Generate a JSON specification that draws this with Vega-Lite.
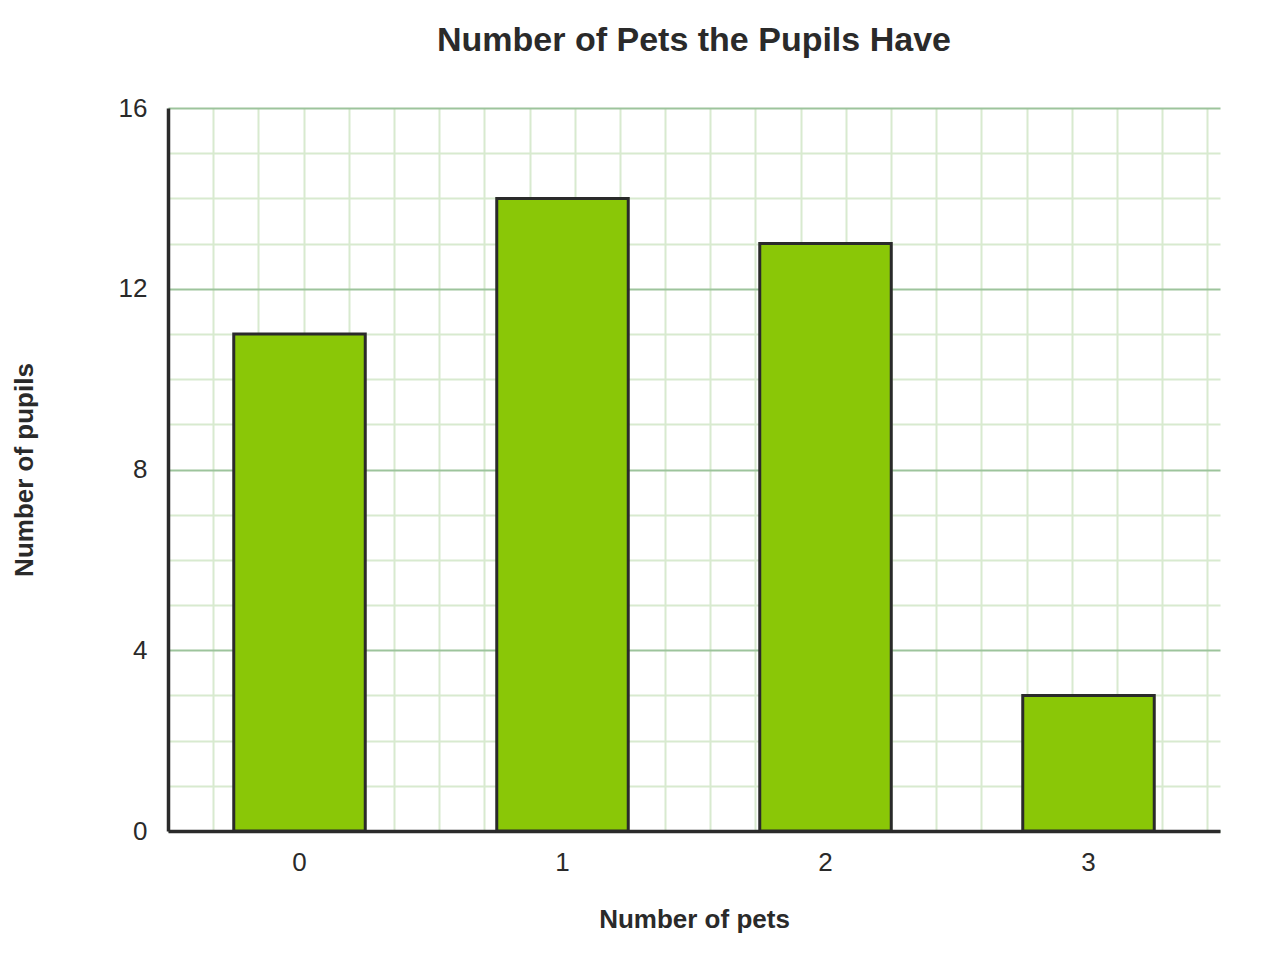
{
  "$schema": "https://vega.github.io/schema/vega-lite/v6.json",
  "width": 1052,
  "height": 723,
  "autosize": "none",
  "padding": {"left": 168, "top": 108, "right": 60, "bottom": 149},
  "background": "white",
  "title": {
    "text": "Number of Pets the Pupils Have",
    "font": "Liberation Sans",
    "fontSize": 34,
    "fontWeight": "bold",
    "color": "#2a2a2a",
    "anchor": "middle",
    "baseline": "alphabetic",
    "offset": 10
  },
  "data": {
    "values": [
      {"pets": "0", "pupils": 11},
      {"pets": "1", "pupils": 14},
      {"pets": "2", "pupils": 13},
      {"pets": "3", "pupils": 3}
    ]
  },
  "config": {
    "view": {"stroke": null},
    "axis": {
      "labelFont": "Liberation Sans",
      "titleFont": "Liberation Sans",
      "labelColor": "#2a2a2a",
      "titleColor": "#2a2a2a",
      "labelFontSize": 26,
      "titleFontSize": 26,
      "titleFontWeight": "bold",
      "domainColor": "#2a2a2a",
      "domainWidth": 3.5,
      "ticks": false,
      "tickSize": 0
    }
  },
  "layer": [
    {
      "mark": {"type": "point", "opacity": 0},
      "encoding": {
        "x": {
          "datum": 0,
          "type": "quantitative",
          "scale": {"domain": [0, 23.28], "nice": false, "zero": false},
          "axis": {
            "orient": "top",
            "domain": false,
            "labels": false,
            "title": null,
            "grid": true,
            "gridColor": "#d8eacf",
            "gridWidth": 2,
            "values": [1, 2, 3, 4, 5, 6, 7, 8, 9, 10, 11, 12, 13, 14, 15, 16, 17, 18, 19, 20, 21, 22, 23]
          }
        }
      }
    },
    {
      "mark": {"type": "bar", "fill": "#8ac707", "stroke": "#2a2a2a", "strokeWidth": 3},
      "encoding": {
        "x": {
          "field": "pets",
          "type": "nominal",
          "sort": null,
          "scale": {"paddingInner": 0.5, "paddingOuter": 0.25},
          "axis": {
            "title": "Number of pets",
            "labelAngle": 0,
            "labelBaseline": "alphabetic",
            "labelPadding": 39,
            "titleBaseline": "alphabetic",
            "titleX": 526,
            "titleY": 96,
            "grid": false
          }
        },
        "y": {
          "field": "pupils",
          "type": "quantitative",
          "scale": {"domain": [0, 16], "nice": false},
          "axis": {
            "title": "Number of pupils",
            "values": [0, 1, 2, 3, 4, 5, 6, 7, 8, 9, 10, 11, 12, 13, 14, 15, 16],
            "labelExpr": "datum.value % 4 === 0 ? datum.label : ''",
            "labelPadding": 21,
            "labelBaseline": "middle",
            "grid": true,
            "gridWidth": 2,
            "gridColor": {"condition": {"test": "datum.value % 4 === 0", "value": "#9dc49c"}, "value": "#d8eacf"},
            "titleAngle": -90,
            "titleAlign": "center",
            "titleBaseline": "alphabetic",
            "titleX": -136,
            "titleY": 361.5
          }
        }
      }
    }
  ],
  "resolve": {"scale": {"x": "independent"}, "axis": {"x": "independent"}}
}
